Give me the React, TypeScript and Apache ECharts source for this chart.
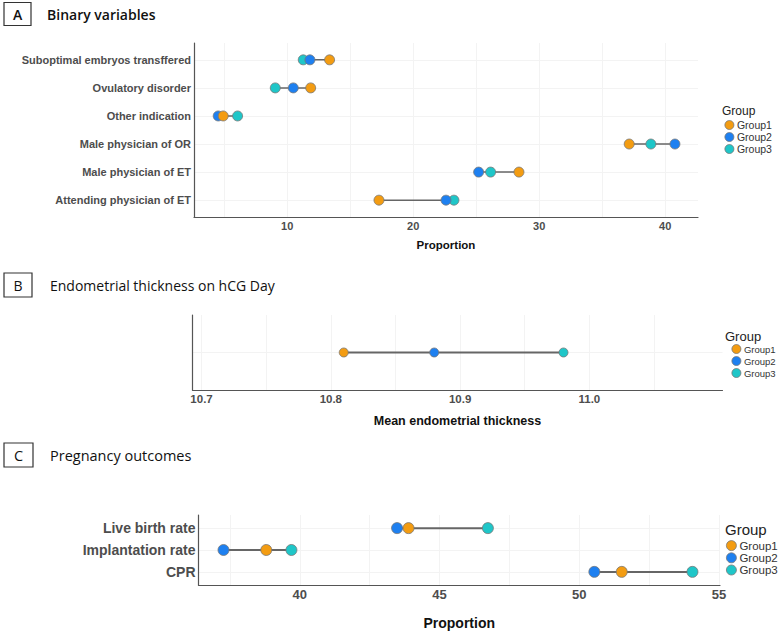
import React, { useEffect, useRef } from "react";
import * as echarts from "echarts";

const groups = ["Group1", "Group2", "Group3"];
const groupColors = ["#F39C12", "#1E80F0", "#1FC6C8"];

const catsA = [
  "Suboptimal embryos transffered",
  "Ovulatory disorder",
  "Other indication",
  "Male physician of OR",
  "Male physician of ET",
  "Attending physician of ET",
];
const a1 = [13.36, 11.86, 4.92, 37.14, 28.39, 17.28];
const a2 = [11.8, 10.48, 4.52, 40.77, 25.19, 22.6];
const a3 = [11.27, 9.05, 6.06, 38.86, 26.14, 23.23];
const ticksA = [10, 20, 30, 40];
const gridA = [5, 10, 15, 20, 25, 30, 35, 40];

const catsB = ["Endometrial thickness"];
const b1 = [10.81];
const b2 = [10.88];
const b3 = [10.98];
const ticksB = [10.7, 10.8, 10.9, 11.0];
const gridB = [10.7, 10.75, 10.8, 10.85, 10.9, 10.95, 11.0, 11.05];

const catsC = ["Live birth rate", "Implantation rate", "CPR"];
const c1 = [43.89, 38.8, 51.52];
const c2 = [43.48, 37.27, 50.54];
const c3 = [46.73, 39.7, 54.05];
const ticksC = [40, 45, 50, 55];
const gridC = [37.5, 40, 42.5, 45, 47.5, 50, 52.5, 55];

const FONT = '"Liberation Sans", Arial, sans-serif';
const TITLE_FONT = '"Open Sans", "Noto Sans", sans-serif';

export default function App() {
  const ref = useRef<HTMLDivElement>(null);
  useEffect(() => {
    if (!ref.current) return;
    const chart = echarts.init(ref.current, null, { renderer: "svg" });

    const panels = [
      {
        cats: catsA, vals: [a1, a2, a3], ticks: ticksA, grid: gridA,
        box: { left: 194, top: 43, width: 504, height: 174 },
        min: 2.6, max: 42.6, name: "Proportion",
        yFont: 11, xFont: 11, nameFont: 11.5, nameGap: 22, symbol: 10, lineW: 1.5,
        fmt: (v: number) => String(v), showY: true,
      },
      {
        cats: catsB, vals: [b1, b2, b3], ticks: ticksB, grid: gridB,
        box: { left: 192.5, top: 315, width: 530, height: 75 },
        min: 10.693, max: 11.103, name: "Mean endometrial thickness",
        yFont: 11, xFont: 11.5, nameFont: 12.5, nameGap: 24, symbol: 9, lineW: 2,
        fmt: (v: number) => v.toFixed(1), showY: false,
      },
      {
        cats: catsC, vals: [c1, c2, c3], ticks: ticksC, grid: gridC,
        box: { left: 198.5, top: 515, width: 521.5, height: 70 },
        min: 36.375, max: 55.036, name: "Proportion",
        yFont: 14, xFont: 13, nameFont: 14, nameGap: 31, symbol: 11, lineW: 2,
        fmt: (v: number) => String(v), showY: true,
      },
    ];

    const grid: any[] = [];
    const xAxis: any[] = [];
    const yAxis: any[] = [];
    const series: any[] = [];

    panels.forEach((p, pi) => {
      grid.push({ ...p.box, containLabel: false });
      xAxis.push({
        type: "value",
        gridIndex: pi,
        min: p.min,
        max: p.max,
        name: p.name,
        nameLocation: "middle",
        nameGap: p.nameGap,
        nameTextStyle: { fontFamily: FONT, fontWeight: "bold", fontSize: p.nameFont, color: "#111" },
        axisLine: { show: true, onZero: false, lineStyle: { color: "#555", width: 1.2 } },
        axisTick: { show: false, customValues: p.grid },
        axisLabel: {
          customValues: p.ticks,
          formatter: p.fmt,
          fontFamily: FONT,
          fontWeight: "bold",
          fontSize: p.xFont,
          color: "#4d4d4d",
          margin: 3,
        },
        splitLine: { show: true, lineStyle: { color: "#f3f3f3", width: 1 } },
      });
      const idx = p.cats.map((_, i) => i);
      yAxis.push({
        type: "value",
        gridIndex: pi,
        min: -0.6,
        max: p.cats.length - 0.4,
        inverse: true,
        axisLine: { show: true, onZero: false, lineStyle: { color: "#555", width: 1.2 } },
        axisTick: { show: false, customValues: idx },
        axisLabel: {
          show: p.showY,
          customValues: idx,
          formatter: (v: number) => p.cats[Math.round(v)] ?? "",
          fontFamily: FONT,
          fontWeight: "bold",
          fontSize: p.yFont,
          color: "#4d4d4d",
          margin: 3,
        },
        splitLine: { show: true, lineStyle: { color: "#f3f3f3", width: 1 } },
      });
      p.cats.forEach((_, ci) => {
        const vs = p.vals.map((arr) => arr[ci]);
        series.push({
          type: "line",
          xAxisIndex: pi,
          yAxisIndex: pi,
          data: [[Math.min(...vs), ci], [Math.max(...vs), ci]],
          symbol: "none",
          silent: true,
          lineStyle: { color: "#666", width: p.lineW },
          z: 1,
        });
      });
      [2, 1, 0].forEach((g) => {
        series.push({
          type: "scatter",
          name: groups[g],
          xAxisIndex: pi,
          yAxisIndex: pi,
          data: p.vals[g].map((v, i) => [v, i]),
          symbolSize: p.symbol,
          itemStyle: { color: groupColors[g], borderColor: "#777", borderWidth: 0.8, opacity: 1 },
          z: 3,
        });
      });
    });

    const legendBase = {
      orient: "vertical",
      selectedMode: false,
      icon: "circle",
      padding: 0,
      itemGap: 0,
      data: groups,
    };
    const legend = [
      { ...legendBase, left: 724.5, top: 119, itemWidth: 9, itemHeight: 9, itemStyle: { borderColor: "#777", borderWidth: 0.8 }, textStyle: { fontFamily: FONT, fontSize: 10.5, color: "#333", lineHeight: 12, padding: [0, 0, 0, -2] } },
      { ...legendBase, left: 731.5, top: 343, itemWidth: 9, itemHeight: 9, itemStyle: { borderColor: "#777", borderWidth: 0.8 }, textStyle: { fontFamily: FONT, fontSize: 9.5, color: "#333", lineHeight: 12, padding: [0, 0, 0, -2] } },
      { ...legendBase, left: 726, top: 539.5, itemWidth: 10, itemHeight: 10, itemStyle: { borderColor: "#777", borderWidth: 0.8 }, textStyle: { fontFamily: FONT, fontSize: 11.5, color: "#333", lineHeight: 12.2, padding: [0, 0, 0, -2] } },
    ];

    const header = (letter: string, title: string, top: number, h: number, w: number, size: number, weight: any) => [
      { type: "rect", shape: { x: 4, y: top, width: w, height: h }, style: { fill: "#fff", stroke: "#333", lineWidth: 1.2 } },
      { type: "text", x: 4 + w / 2, y: top + h / 2, style: { text: letter, fontFamily: TITLE_FONT, fontSize: size, fontWeight: weight, fill: "#111", align: "center", verticalAlign: "middle" } },
      { type: "text", x: letter === "A" ? 47 : 50, y: top + h / 2, style: { text: title, fontFamily: TITLE_FONT, fontSize: size, fontWeight: weight, fill: "#111", align: "left", verticalAlign: "middle" } },
    ];

    const groupTitle = (x: number, y: number, size: number) => ({
      type: "text", x, y, style: { text: "Group", fontFamily: FONT, fontSize: size, fill: "#222", align: "left", verticalAlign: "middle" },
    });

    const option: any = {
      animation: false,
      backgroundColor: "#fff",
      grid,
      xAxis,
      yAxis,
      series,
      legend,
      graphic: [
        ...header("A", "Binary variables", 2.5, 23, 27, 14, 600),
        ...header("B", "Endometrial thickness on hCG Day", 273, 24, 28, 14, "normal"),
        ...header("C", "Pregnancy outcomes", 443, 24, 29, 14.5, "normal"),
        groupTitle(722, 111, 12),
        groupTitle(725, 336, 13),
        groupTitle(725, 529, 15),
      ],
    };
    chart.setOption(option);
    return () => chart.dispose();
  }, []);

  return (
    <div
      ref={ref}
      style={{ position: "absolute", left: 0, top: 0, width: 778, height: 633 }}
    />
  );
}
